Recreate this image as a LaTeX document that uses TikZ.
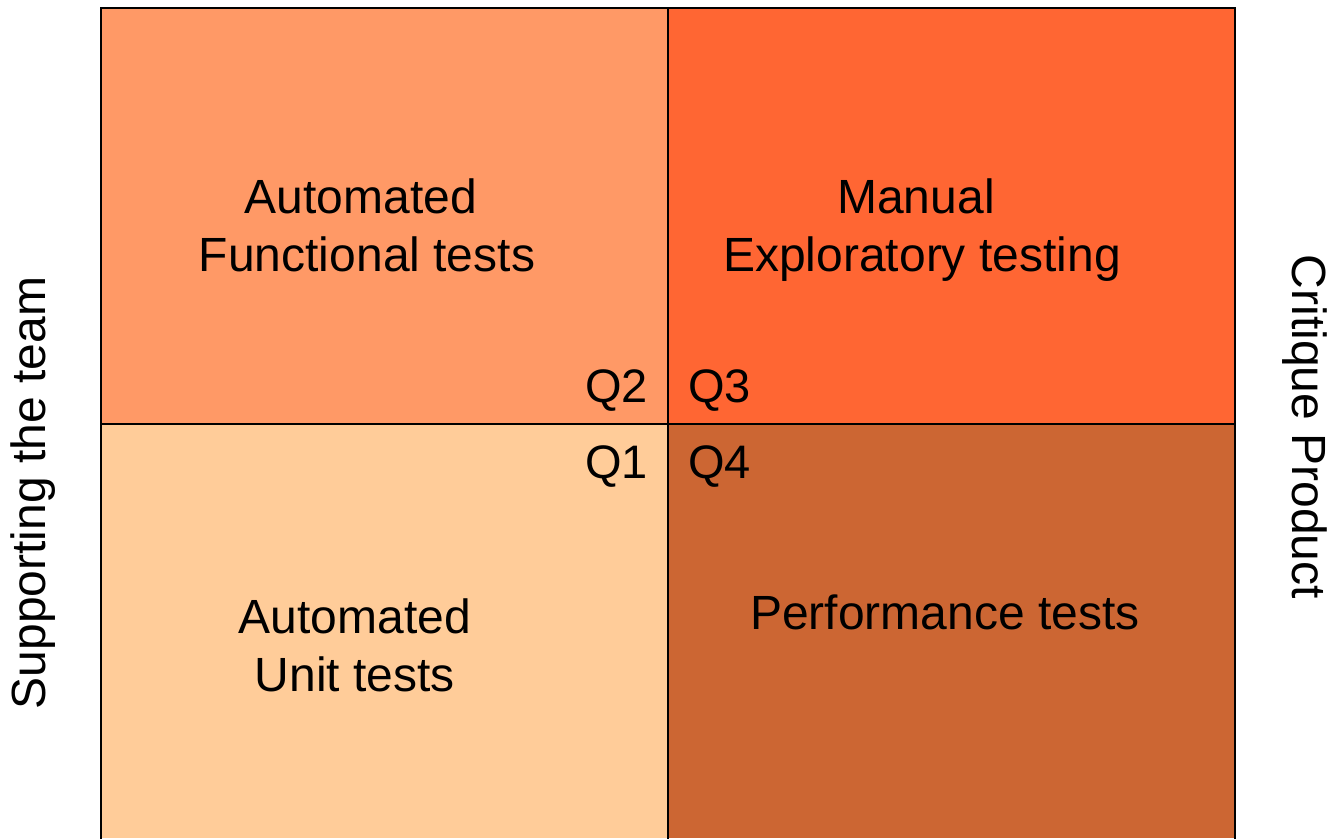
\documentclass[tikz,border=0pt]{standalone}
\usepackage{fontspec}
\setmainfont{Liberation Sans}
\definecolor{qtl}{HTML}{FF9966}
\definecolor{qtr}{HTML}{FF6633}
\definecolor{qbl}{HTML}{FFCC99}
\definecolor{qbr}{HTML}{CC6633}
\begin{document}
\begin{tikzpicture}[x=1pt,y=-1pt,
  lbl/.style={font=\fontsize{48}{58}\selectfont,align=center,inner sep=0pt,text=black},
  ql/.style={font=\fontsize{47}{54}\selectfont,inner sep=0pt,text=black},
  grid/.style={draw=black,line width=1.4pt}]
\useasboundingbox (0,0) rectangle (1330,838);
\fill[qtl] (101,8) rectangle (668,424);
\fill[qtr] (668,8) rectangle (1235,424);
\fill[qbl] (101,424) rectangle (668,838);
\fill[qbr] (668,424) rectangle (1235,838);
\coordinate (tl) at (101,8);
\coordinate (tr) at (1235,8);
\coordinate (bl) at (101,840);
\coordinate (br) at (1235,840);
\coordinate (mt) at (668,8);
\coordinate (mb) at (668,840);
\coordinate (ml) at (101,424);
\coordinate (mr) at (1235,424);
\draw[grid] (bl) -- (tl) -- (tr) -- (br);
\draw[grid] (mt) -- (mb);
\draw[grid] (ml) -- (mr);
\node[lbl] (q2t) at (367,225) {Automated\kern12pt\relax\\Functional tests};
\node[lbl] (q3t) at (922,230) {Manual\kern12pt\relax\\Exploratory testing};
\node[lbl] (q1t) at (355,645) {Automated\\Unit tests};
\node[lbl] (q4t) at (945,612) {Performance tests};
\node[ql,anchor=east] (q2) at (648,391) {Q2};
\node[ql,anchor=west] (q3) at (688,391) {Q3};
\node[ql,anchor=east] (q1) at (648,467) {Q1};
\node[ql,anchor=west] (q4) at (688,467) {Q4};
\node[lbl,rotate=90] (sup) at (33,493) {Supporting the team};
\node[lbl,rotate=-90] (crit) at (1305,427) {Critique Product};
\end{tikzpicture}
\end{document}
